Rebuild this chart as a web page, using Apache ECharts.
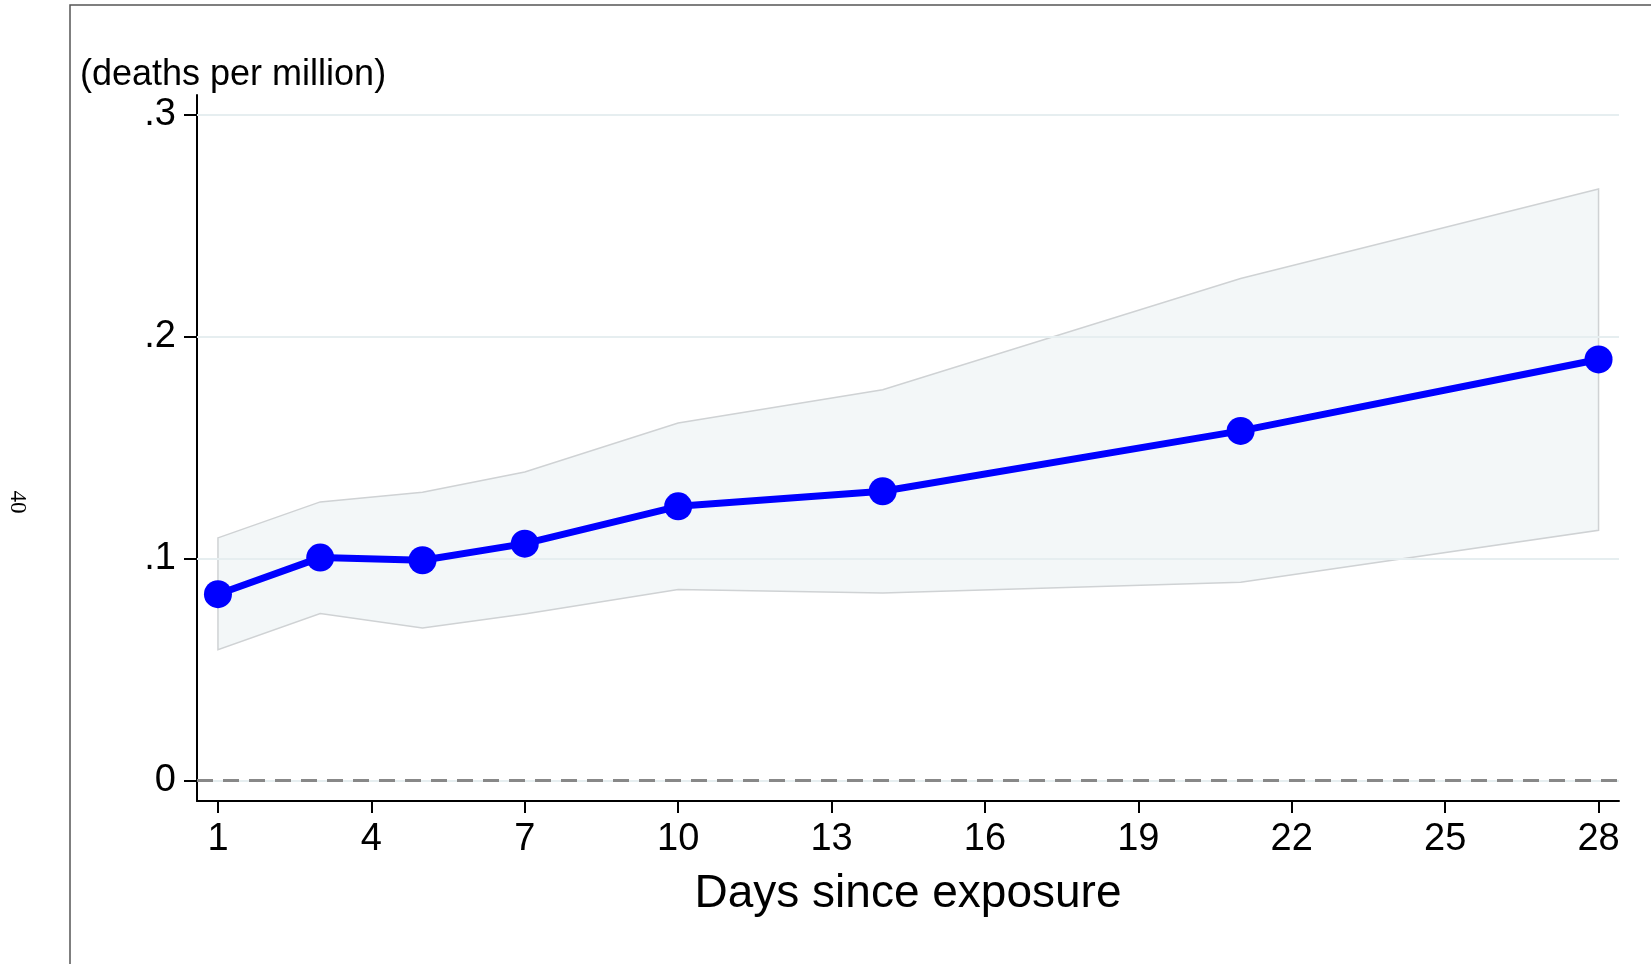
<!DOCTYPE html>
<html>
<head>
<meta charset="utf-8">
<title>Deaths per million by days since exposure</title>
<script src="https://cdn.jsdelivr.net/npm/echarts@6/dist/echarts.min.js"></script>
<style>
  html, body { margin: 0; padding: 0; background: #fff; }
  #chart { width: 1651px; height: 964px; }
</style>
</head>
<body>
<div id="chart"></div>
<script>
// Days after exposure at which the effect is estimated
const days = [1, 3, 5, 7, 10, 14, 21, 28];
// Point estimates (deaths per million)
const estimate = [0.0839, 0.1004, 0.0992, 0.1067, 0.1235, 0.1303, 0.1575, 0.1897];
// Confidence band bounds
const upper = [0.1093, 0.1255, 0.1299, 0.1390, 0.1611, 0.1761, 0.2262, 0.2665];
const lower = [0.0589, 0.0752, 0.0687, 0.0750, 0.0860, 0.0845, 0.0893, 0.1127];
// Axis ticks
const xTicks = [1, 4, 7, 10, 13, 16, 19, 22, 25, 28];
const yTicks = [0, 0.1, 0.2, 0.3];

const FONT = '"Liberation Sans", Arial, Helvetica, sans-serif';

const chart = echarts.init(document.getElementById('chart'), null, { renderer: 'canvas' });

const option = {
  animation: false,
  backgroundColor: '#ffffff',
  grid: { left: 197, right: 32, top: 95, bottom: 163, containLabel: false },
  graphic: [
    {
      type: 'rect',
      shape: { x: 70, y: 5, width: 1700, height: 1100 },
      style: { fill: 'none', stroke: '#555555', lineWidth: 1.5 },
      silent: true,
      z: -10
    },
    {
      type: 'text',
      x: 80, y: 75,
      style: {
        text: '(deaths per million)',
        font: '36px ' + FONT,
        fill: '#000',
        textVerticalAlign: 'middle'
      },
      silent: true
    },
    {
      type: 'text',
      x: 17, y: 502,
      rotation: -Math.PI / 2,
      style: {
        text: '40',
        font: '23px "Liberation Serif", "Times New Roman", serif',
        fill: '#000',
        textAlign: 'center',
        textVerticalAlign: 'middle'
      },
      silent: true
    }
  ],
  xAxis: {
    type: 'value',
    min: 0.59,
    max: 28.4,
    name: 'Days since exposure',
    nameLocation: 'middle',
    nameGap: 70,
    nameTextStyle: { fontFamily: FONT, fontSize: 46, color: '#000' },
    axisLine: { onZero: false, lineStyle: { color: '#000', width: 2 } },
    axisTick: { show: true, length: 12, customValues: xTicks, lineStyle: { color: '#000', width: 2 } },
    axisLabel: {
      customValues: xTicks,
      fontFamily: FONT, fontSize: 38, color: '#000', margin: 20,
      formatter: v => String(v)
    },
    splitLine: { show: false }
  },
  yAxis: {
    type: 'value',
    min: -0.0093,
    max: 0.3089,
    axisLine: { show: true, onZero: false, lineStyle: { color: '#000', width: 2 } },
    axisTick: { show: true, length: 13, customValues: yTicks, lineStyle: { color: '#000', width: 2 } },
    axisLabel: {
      customValues: yTicks,
      fontFamily: FONT, fontSize: 38, color: '#000', margin: 21,
      formatter: v => (v === 0 ? '0' : String(Math.round(v * 10) / 10).replace(/^0/, ''))
    },
    splitLine: { show: false }
  },
  series: [
    {
      // confidence band polygon
      type: 'custom',
      z: 1,
      silent: true,
      data: days.map((d, i) => [d, lower[i], upper[i]]),
      encode: { x: 0, y: [1, 2] },
      renderItem: function (params, api) {
        if (params.dataIndex !== 0) return null;
        const pts = [];
        for (let i = 0; i < days.length; i++) pts.push(api.coord([days[i], upper[i]]));
        for (let i = days.length - 1; i >= 0; i--) pts.push(api.coord([days[i], lower[i]]));
        return {
          type: 'polygon',
          shape: { points: pts },
          style: { fill: '#f3f7f8', stroke: '#cfd2d4', lineWidth: 1.5 }
        };
      }
    },
    {
      // horizontal gridlines and the dashed zero reference
      type: 'line',
      z: 2,
      data: [],
      silent: true,
      markLine: {
        silent: true,
        symbol: 'none',
        label: { show: false },
        data: yTicks.map(v => ({ yAxis: v })),
        lineStyle: { color: '#e6eef0', width: 2, type: 'solid' }
      }
    },
    {
      type: 'line',
      z: 3,
      data: [],
      silent: true,
      markLine: {
        silent: true,
        symbol: 'none',
        label: { show: false },
        data: [{ yAxis: 0 }],
        lineStyle: { color: '#888888', width: 3, type: [16, 10] }
      }
    },
    {
      type: 'line',
      z: 5,
      data: days.map((d, i) => [d, estimate[i]]),
      symbol: 'circle',
      symbolSize: 28,
      lineStyle: { color: '#0000ff', width: 7 },
      itemStyle: { color: '#0000ff' },
      silent: true
    }
  ]
};

chart.setOption(option);
</script>
</body>
</html>
